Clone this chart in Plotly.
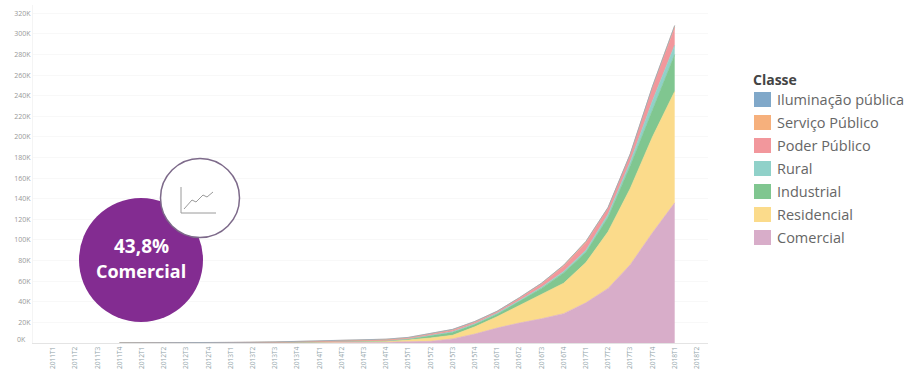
import plotly.graph_objects as go

periods = [f"{y}T{q}" for y in range(2011, 2018) for q in (1, 2, 3, 4)] + ["2018T1", "2018T2"]
area_periods = periods[3:29]

comercial = [0,0,0,0,0,0,0.1,0.2,0.3,0.4,0.5,0.6,0.8,1.2,1.6,4,8.7,14.5,19.4,23.5,28.5,39,53,76,107,136]
residencial = [0,0,0,0,0,0,0.2,0.3,0.4,0.5,0.6,0.8,1.0,1.8,3.2,3.5,7,11,17,23.5,29.5,39,55,74,93,108]
industrial = [0,0,0,0,0,0,0.1,0.1,0.2,0.2,0.2,0.3,0.4,0.8,2.4,3,2.5,2.5,4,6,10,10,14,22,26,36]
rural = [0,0,0,0,0,0,0,0,0,0,0,0,0.1,0.2,0.3,0.4,0.5,0.8,0.8,1.2,1.5,2,3,4,9,9]
poder = [0,0,0,0,0,0,0.1,0.1,0.1,0.2,0.2,0.3,0.4,0.7,1,1.5,1.5,1.5,2,3,5,7,6,7,13,17]
servico = [0,0,0,0,0,0,0.2,0.3,0.5,0.7,0.9,1,1,0.7,0.7,0.8,0.7,0.5,0.7,0.8,1,1.5,0.5,0.5,1,2]
iluminacao = [0.05,0.05,0.05,0.05,0.05,0.05,0.05,0.05,0.05,0.05,0.05,0.05,0.05,0.05,0.05,0.05,0.05,0.05,0.05,0.05,0.05,0.1,0.1,0.1,0.1,0.1]

series = [
    ("Comercial", comercial, "#D8ADC9"),
    ("Residencial", residencial, "#FBDB8B"),
    ("Industrial", industrial, "#80C690"),
    ("Rural", rural, "#90D1C9"),
    ("Poder Público", poder, "#F2979C"),
    ("Serviço Público", servico, "#F6B07C"),
    ("Iluminação pública", iluminacao, "#80A8C9"),
]
y_ticks = list(range(20, 321, 20))
y_labels = [f"{v}K" for v in y_ticks]
legend_title = "Classe"
badge_value = "43,8%"
badge_label = "Comercial"

W, H = 920, 385
ML, MR, MT, MB = 33, 212, 5, 42
px = lambda x: (x - ML) / (W - ML - MR)
py = lambda y: 1 - (y - MT) / (H - MT - MB)

fig = go.Figure()
for name, vals, col in series:
    fig.add_trace(go.Scatter(x=area_periods, y=vals, stackgroup="a", mode="lines", name=name,
                             line=dict(color=col, width=0.7), fillcolor=col,
                             showlegend=False))


def circle(cx, cy, r, fill, line, width):
    return dict(type="circle", xref="paper", yref="paper", x0=px(cx - r), x1=px(cx + r),
                y0=py(cy + r), y1=py(cy - r), fillcolor=fill, line=dict(color=line, width=width))


def seg(x0, y0, x1, y1):
    return dict(type="line", xref="paper", yref="paper", x0=px(x0), x1=px(x1), y0=py(y0), y1=py(y1),
                line=dict(color="#9a9a9a", width=1))


shapes = [circle(141, 260, 62, "#832C91", "#832C91", 0),
          circle(200, 198, 39.5, "#FFFFFF", "#7D6A8A", 1.5),
          seg(181, 187, 181, 213), seg(181, 213, 216, 213)]
zig = [(184, 209), (192, 200), (196, 202), (203, 195), (207, 197), (213, 192)]
shapes += [seg(*a, *b) for a, b in zip(zig, zig[1:])]


def label(text, x, y, size, color, xanchor="center"):
    return dict(text=text, xref="paper", yref="paper", x=px(x), y=py(y), xanchor=xanchor, yanchor="middle",
                showarrow=False, font=dict(family="Open Sans", size=size, color=color))


annotations = [
    label(f"<b>{badge_value}</b>", 141, 246, 19, "white"),
    label(f"<b>{badge_label}</b>", 141, 271, 18, "white"),
    label(f"<b>{legend_title}</b>", 751, 79, 14, "#444444", "left"),
    dict(text="0K", xref="paper", yref="y", x=0, y=0, xanchor="right", xshift=-5, yshift=4, showarrow=False,
         font=dict(family="Open Sans", size=7, color="#999999")),
]
for i, (name, vals, col) in enumerate(reversed(series)):
    cy = 99.5 + i * 23
    shapes.append(dict(type="rect", xref="paper", yref="paper", x0=px(754), x1=px(771),
                       y0=py(cy + 7.5), y1=py(cy - 7.5), fillcolor=col, line=dict(width=0)))
    annotations.append(label(name, 775, cy, 14.5, "#666666", "left"))

fig.update_layout(
    width=W, height=H, margin=dict(l=ML, r=MR, t=MT, b=MB),
    paper_bgcolor="white", plot_bgcolor="white",
    font=dict(family="Open Sans"), showlegend=False,
    xaxis=dict(type="category", categoryorder="array", categoryarray=periods,
               tickmode="array", tickvals=periods, ticktext=periods, tickangle=-90,
               tickfont=dict(size=6.6, color="#8FA3A8"), range=[-0.9, 29.5],
               showgrid=False, zeroline=False, showline=True, linecolor="#E4E4E4", ticks=""),
    yaxis=dict(range=[0, 328], tickmode="array", tickvals=y_ticks, ticktext=y_labels,
               tickfont=dict(size=7, color="#999999"), gridcolor="#F8F8F8", zeroline=False,
               showline=True, linecolor="#F4F4F4", ticks=""),
    shapes=shapes, annotations=annotations,
)
fig.write_html("out.html", config={"displayModeBar": False},
               post_script="document.body.style.margin='0';")
